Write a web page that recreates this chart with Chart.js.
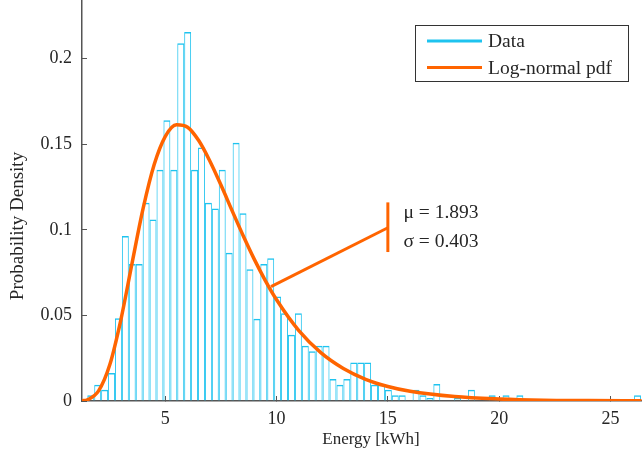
<!DOCTYPE html>
<html>
<head>
<meta charset="utf-8">
<script src="https://cdn.jsdelivr.net/npm/chart.js@4.4.1/dist/chart.umd.min.js"></script>
<style>
  html, body { margin: 0; padding: 0; background: #fff; }
  #wrap { width: 642px; height: 452px; }
</style>
</head>
<body>
<div id="wrap"><canvas id="histChart" width="642" height="452"></canvas></div>
<script>
// histogram bins (kWh)
const binStart = 1.494;
const binWidth = 0.311;
const density = [
    0.0033, 0.0095, 0.0066, 0.0163, 0.0484, 0.0964, 0.080, 0.080, 0.1158, 0.106,
    0.135, 0.164, 0.135, 0.209, 0.2155, 0.135, 0.148, 0.1158, 0.1125, 0.135,
    0.0866, 0.1508, 0.1096, 0.077, 0.048, 0.080, 0.0834, 0.061, 0.0513, 0.0387,
    0.0513, 0.0322, 0.029, 0.0322, 0.0322, 0.0128, 0.0095, 0.0128, 0.0225, 0.0225,
    0.0225, 0.0095, 0.0095, 0.0066, 0.0033, 0.0033, 0, 0.0066, 0.0033, 0.0017,
    0.0100, 0, 0, 0.0017, 0, 0.0066, 0, 0, 0.0033, 0,
    0.0033, 0, 0.0033, 0, 0, 0, 0, 0, 0, 0,
    0, 0, 0, 0, 0, 0, 0, 0, 0, 0.0033
];

// log-normal pdf
const pdfX = [1.25, 1.5, 2, 2.5, 3, 3.5, 4, 4.5, 5, 5.5, 6, 6.5, 7, 7.5, 8, 8.5, 9, 9.5, 10,
              11, 12, 13, 14, 15, 16, 18, 20, 22, 24, 26.4];
const pdfY = [0.0001, 0.0007, 0.0059, 0.0210, 0.0473, 0.0801, 0.1123, 0.1381, 0.1546, 0.1614,
              0.1599, 0.1521, 0.1402, 0.1261, 0.1112, 0.0965, 0.0827, 0.0702, 0.0591,
              0.0411, 0.0281, 0.0190, 0.0127, 0.0085, 0.0057, 0.0026, 0.0012, 0.0005, 0.0003, 0.0001];

const xTicks = [5, 10, 15, 20, 25];
const yTicks = [0, 0.05, 0.1, 0.15, 0.2];

// annotation: pointer from the curve to the parameter text
const pointerX = [9.75, 15.0];
const pointerY = [0.0668, 0.1012];
const markX = [15.0, 15.0];
const markY = [0.087, 0.116];
const noteLines = ['\u03bc = 1.893', '\u03c3 = 0.403'];
const noteX = 15.7;
const noteY = [0.1097, 0.0932];

const cyan = '#1ec3ef';
const orange = '#ff6400';
const textColor = '#262626';
const serif = '"Liberation Serif", "Times New Roman", serif';

const binCenters = density.map((d, i) => binStart + binWidth * (i + 0.5));

// legend drawn inside the plot, like the original figure
const legendBox = {
    id: 'legendBox',
    afterDraw(chart) {
        const ctx = chart.ctx;
        const items = [chart.data.datasets[0], chart.data.datasets[1]];
        ctx.save();
        ctx.fillStyle = '#fff';
        ctx.fillRect(415.5, 25.5, 213, 56);
        ctx.strokeStyle = '#333';
        ctx.lineWidth = 1;
        ctx.strokeRect(415.5, 25.5, 213, 56);
        ctx.font = '19.5px ' + serif;
        ctx.textBaseline = 'middle';
        items.forEach((ds, i) => {
            const y = 41 + i * 26.5;
            ctx.strokeStyle = ds.borderColor;
            ctx.lineWidth = 3;
            ctx.beginPath();
            ctx.moveTo(427, y);
            ctx.lineTo(482, y);
            ctx.stroke();
            ctx.fillStyle = textColor;
            ctx.fillText(ds.label, 488, y + 1);
        });
        ctx.restore();
    }
};

// parameter text and axis titles
const labelsPlugin = {
    id: 'labelsPlugin',
    afterDraw(chart) {
        const ctx = chart.ctx;
        const xs = chart.scales.x, ys = chart.scales.y;
        ctx.save();
        ctx.fillStyle = textColor;
        ctx.font = '19.5px ' + serif;
        ctx.textBaseline = 'middle';
        noteLines.forEach((t, i) => {
            ctx.fillText(t, xs.getPixelForValue(noteX), ys.getPixelForValue(noteY[i]));
        });
        ctx.textAlign = 'center';
        ctx.font = '17px ' + serif;
        ctx.fillText('Energy [kWh]', 371, 440);
        ctx.font = '19px ' + serif;
        ctx.translate(18, 226);
        ctx.rotate(-Math.PI / 2);
        ctx.fillText('Probability Density', 0, 0);
        ctx.restore();
    }
};

document.addEventListener('DOMContentLoaded', function () {
    new Chart(document.getElementById('histChart').getContext('2d'), {
        data: {
            datasets: [{
                type: 'bar',
                label: 'Data',
                data: binCenters.map((x, i) => ({x: x, y: density[i]})),
                backgroundColor: 'rgba(0,0,0,0)',
                borderColor: cyan,
                borderWidth: {left: 0.9, right: 0.9, top: 1.5, bottom: 0},
                borderSkipped: false,
                barPercentage: 1,
                categoryPercentage: 1,
                inflateAmount: 0,
                order: 3
            }, {
                type: 'line',
                label: 'Log-normal pdf',
                data: pdfX.map((x, i) => ({x: x, y: pdfY[i]})),
                borderColor: orange,
                borderWidth: 3.5,
                pointRadius: 0,
                cubicInterpolationMode: 'monotone',
                fill: false,
                order: 0
            }, {
                type: 'line',
                label: 'pointer',
                data: pointerX.map((x, i) => ({x: x, y: pointerY[i]})),
                borderColor: orange,
                borderWidth: 3,
                pointRadius: 0,
                order: 1
            }, {
                type: 'line',
                label: 'mark',
                data: markX.map((x, i) => ({x: x, y: markY[i]})),
                borderColor: orange,
                borderWidth: 3,
                pointRadius: 0,
                order: 1
            }]
        },
        options: {
            responsive: false,
            animation: false,
            devicePixelRatio: 1,
            layout: {padding: 0},
            plugins: {legend: {display: false}, tooltip: {enabled: false}},
            scales: {
                x: {
                    type: 'linear',
                    min: 1.256,
                    max: 26.42,
                    offset: false,
                    afterBuildTicks: s => { s.ticks = xTicks.map(v => ({value: v})); },
                    afterFit: s => { s.height = 51; s.paddingLeft = 0; s.paddingRight = 0; },
                    grid: {drawOnChartArea: false, tickLength: -5, color: '#555', offset: false},
                    border: {color: '#555', width: 1.5},
                    ticks: {color: textColor, font: {family: serif, size: 18}, padding: 12, maxRotation: 0,
                            callback: v => String(+v.toFixed(3))}
                },
                y: {
                    type: 'linear',
                    min: 0,
                    max: 0.2342,
                    afterBuildTicks: s => { s.ticks = yTicks.map(v => ({value: v})); },
                    afterFit: s => { s.width = 82; s.paddingTop = 0; s.paddingBottom = 0; },
                    grid: {drawOnChartArea: false, tickLength: -5, color: '#555'},
                    border: {color: '#555', width: 1.5},
                    ticks: {color: textColor, font: {family: serif, size: 18}, padding: 15,
                            callback: v => String(+v.toFixed(3))}
                }
            }
        },
        plugins: [legendBox, labelsPlugin]
    });
});
</script>
</body>
</html>
